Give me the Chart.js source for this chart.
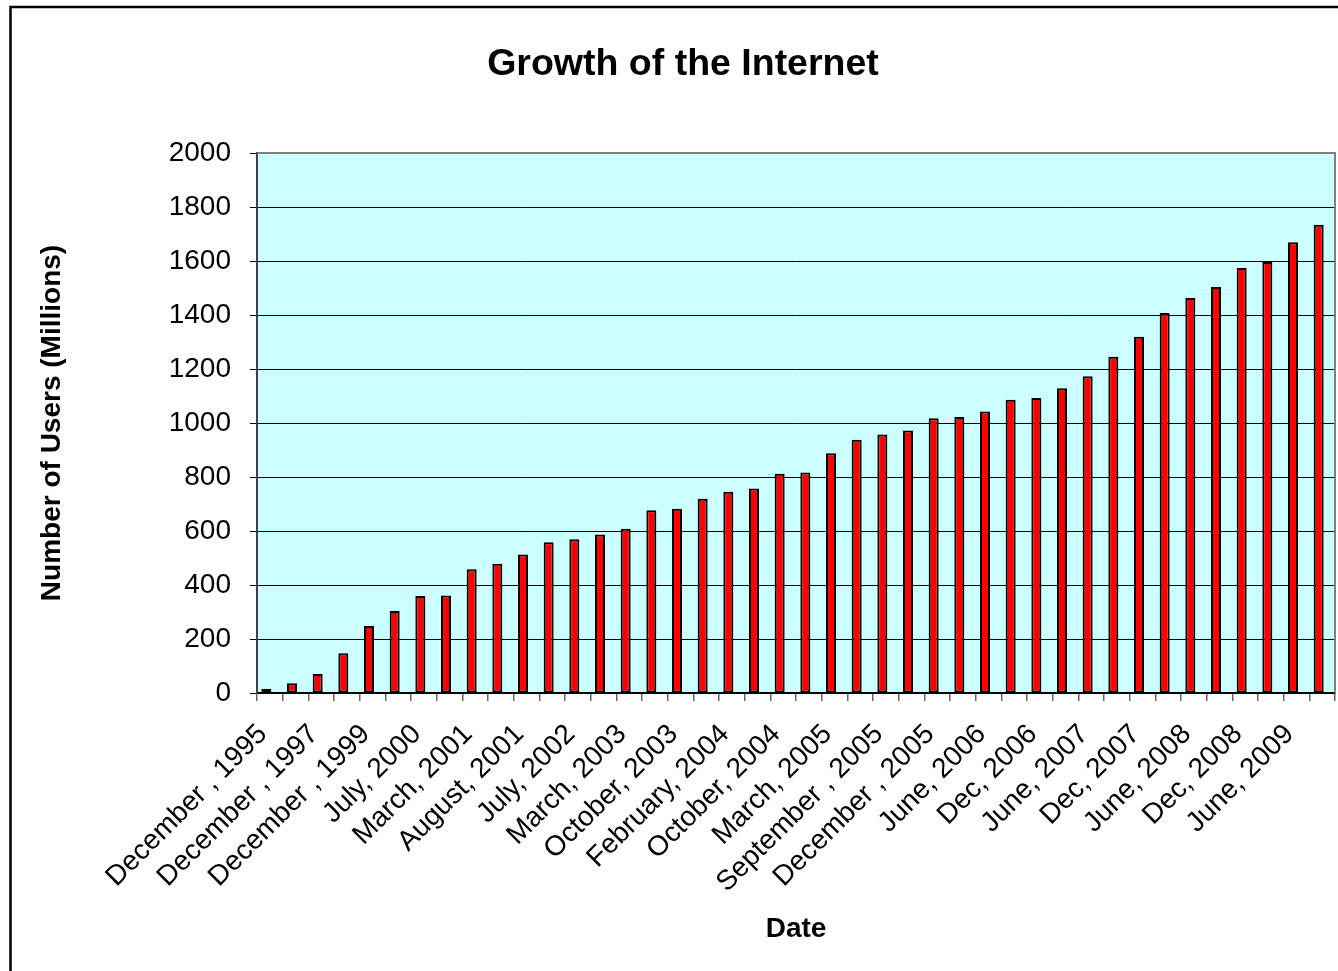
<!DOCTYPE html>
<html>
<head>
<meta charset="utf-8">
<title>Growth of the Internet</title>
<script src="https://cdn.jsdelivr.net/npm/chart.js@4.4.1/dist/chart.umd.min.js"></script>
<style>
  html, body { margin: 0; padding: 0; background: #fff; }
  canvas { display: block; }
</style>
</head>
<body>
<canvas id="growthChart" width="1338" height="971"></canvas>
<script>
// Survey dates (only every second one gets a label on the axis)
const dates = [
    'December , 1995', 'December , 1996', 'December , 1997', 'December , 1998',
    'December , 1999', 'March, 2000', 'July, 2000', 'December, 2000',
    'March, 2001', 'June, 2001', 'August, 2001', 'April, 2002',
    'July, 2002', 'September, 2002', 'March, 2003', 'September, 2003',
    'October, 2003', 'December, 2003', 'February, 2004', 'May, 2004',
    'October, 2004', 'December, 2004', 'March, 2005', 'June, 2005',
    'September , 2005', 'November, 2005', 'December , 2005', 'March, 2006',
    'June, 2006', 'Sept, 2006', 'Dec, 2006', 'Mar, 2007',
    'June, 2007', 'Sept, 2007', 'Dec, 2007', 'Mar, 2008',
    'June, 2008', 'Sept, 2008', 'Dec, 2008', 'Mar, 2009',
    'June, 2009', 'Sept, 2009'
];

// Internet users, millions
const users = [
    16, 36, 70, 147, 248, 304, 359, 361, 458, 479, 513, 558, 569, 587,
    608, 677, 682, 719, 745, 757, 812, 817, 888, 938, 957, 972, 1018, 1022,
    1043, 1086, 1093, 1129, 1173, 1245, 1319, 1407, 1463, 1504, 1574, 1596,
    1669, 1734
];

const yMin = 0;
const yMax = 2000;
const yStep = 200;

const FONT = "'Liberation Sans', Arial, Helvetica, sans-serif";

// plot background, outer frame, chart title and the grey top/right edge
const decorations = {
    id: 'decorations',
    beforeDraw(chart) {
        const { ctx, chartArea: a } = chart;
        ctx.save();
        ctx.fillStyle = '#ffffff';
        ctx.fillRect(0, 0, chart.width, chart.height);
        ctx.fillStyle = '#ccffff';
        ctx.fillRect(a.left, a.top, a.right - a.left, a.bottom - a.top);
        ctx.restore();
    },
    afterDraw(chart) {
        const { ctx, chartArea: a } = chart;
        ctx.save();
        // frame runs off the right and bottom of the page
        ctx.strokeStyle = '#000';
        ctx.lineWidth = 2.5;
        ctx.strokeRect(10.5, 7, 1346, 1000);

        ctx.strokeStyle = '#808080';
        ctx.lineWidth = 2;
        ctx.beginPath();
        ctx.moveTo(a.left, a.top);
        ctx.lineTo(a.right, a.top);
        ctx.lineTo(a.right, a.bottom);
        ctx.stroke();

        ctx.fillStyle = '#000';
        ctx.font = 'bold 37.5px ' + FONT;
        ctx.textAlign = 'center';
        ctx.textBaseline = 'alphabetic';
        ctx.fillText('Growth of the Internet', 683, 75);
        ctx.restore();
    }
};

// fixed axis sizes so the plot area doesn't move with label overhang
function fixBox(size) {
    return (scale) => {
        if (scale.isHorizontal()) scale.height = size;
        else scale.width = size;
        scale.paddingLeft = 0;
        scale.paddingRight = 0;
        scale.paddingTop = 0;
        scale.paddingBottom = 0;
    };
}

const ctx = document.getElementById('growthChart').getContext('2d');
const chart = new Chart(ctx, {
    type: 'bar',
    data: {
        labels: dates,
        datasets: [{
            label: 'Users',
            data: users,
            backgroundColor: '#ff0000',
            borderColor: '#000000',
            borderWidth: 2,
            borderSkipped: false
        }, {
            // empty companion series, nudges the red bars left of centre
            label: '',
            data: dates.map(() => null)
        }]
    },
    options: {
        responsive: false,
        animation: false,
        devicePixelRatio: 1,
        categoryPercentage: 0.545,
        barPercentage: 1.43,
        layout: {
            padding: { left: 35, top: 153, right: 3, bottom: 0 }
        },
        plugins: {
            legend: { display: false },
            title: { display: false },
            tooltip: { enabled: false }
        },
        scales: {
            x: {
                offset: true,
                grid: {
                    offset: true,
                    drawOnChartArea: false,
                    tickLength: 8,
                    color: '#666666',
                    lineWidth: 1.5
                },
                border: { color: '#000000', width: 2 },
                ticks: {
                    autoSkip: false,
                    minRotation: 45,
                    maxRotation: 45,
                    padding: 17,
                    labelOffset: -7,
                    color: '#000',
                    font: { family: FONT, size: 28 },
                    callback: (v, i) => (i % 2 === 0 ? dates[i] : '')
                },
                title: {
                    display: true,
                    text: 'Date',
                    color: '#000',
                    font: { family: FONT, size: 28, weight: 'bold' },
                    padding: { top: 0, bottom: 25 }
                },
                afterFit: fixBox(278)
            },
            y: {
                min: yMin,
                max: yMax,
                grid: {
                    color: '#000000',
                    lineWidth: 1,
                    tickLength: 7
                },
                border: { color: '#404040', width: 2 },
                ticks: {
                    stepSize: yStep,
                    padding: 19,
                    color: '#000',
                    font: { family: FONT, size: 28 },
                    callback: (v) => String(v)
                },
                title: {
                    display: true,
                    text: 'Number of Users (Millions)',
                    color: '#000',
                    font: { family: FONT, size: 28, weight: 'bold' },
                    padding: { top: 0, bottom: 0 }
                },
                afterFit: fixBox(222)
            }
        }
    },
    plugins: [decorations]
});
</script>
</body>
</html>
